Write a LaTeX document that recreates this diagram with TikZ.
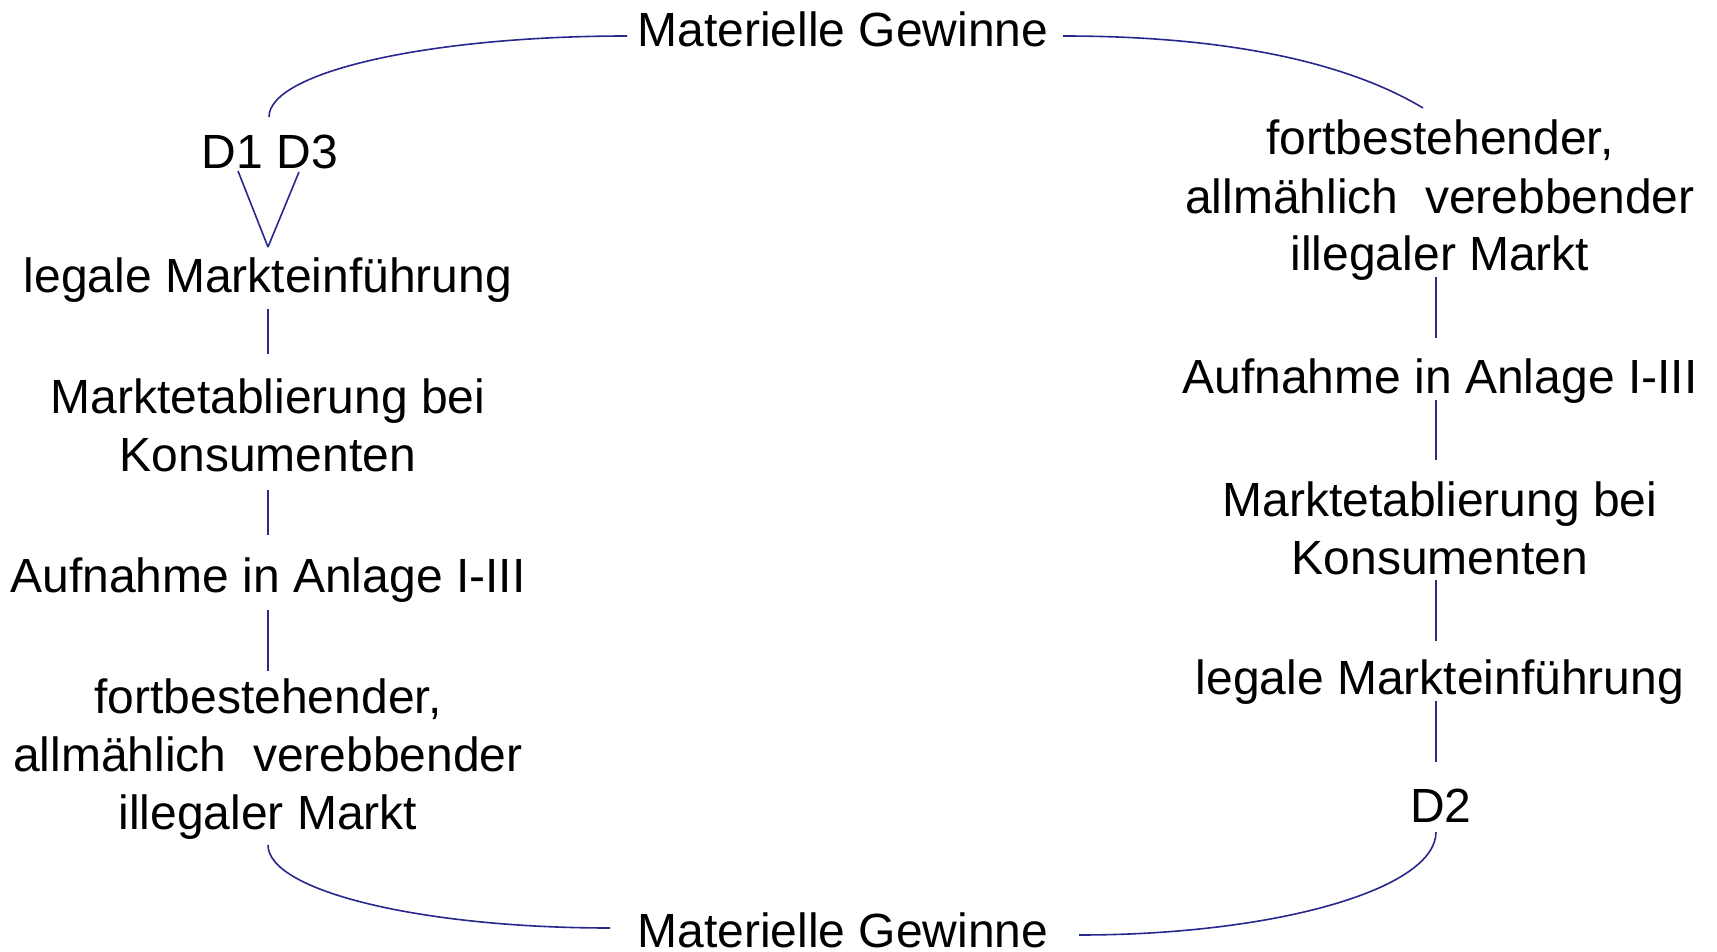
\documentclass[tikz,border=0pt]{standalone}
\usepackage{fontspec}
\setmainfont{Liberation Sans}
\definecolor{lnkcol}{RGB}{40,40,140}
\begin{document}
\begin{tikzpicture}[x=1pt,y=-1pt,
  lbl/.style={font=\fontsize{48}{58}\selectfont, inner sep=0pt, anchor=base, align=center},
  lnk/.style={draw=lnkcol, line width=1.6pt}]
\useasboundingbox (0,0) rectangle (1717,952);
% top and bottom
\node[lbl] (mgtop) at (843,47) {Materielle Gewinne};
\node[lbl] (mgbot) at (843,947) {Materielle Gewinne};
% left column
\node[lbl] (d13) at (270,169) {D1 D3};
\node[lbl] (lm) at (268,292) {legale Markteinführung};
\node[lbl] (me) at (268,471) {Marktetablierung bei\\Konsumenten};
\node[lbl] (an) at (268,592) {Aufnahme in Anlage I-III};
\node[lbl] (fi) at (268,829) {fortbestehender,\\allmählich\ \ verebbender\\illegaler Markt};
% right column
\node[lbl] (fiR) at (1440,271) {fortbestehender,\\allmählich\ \ verebbender\\illegaler Markt};
\node[lbl] (anR) at (1440,393) {Aufnahme in Anlage I-III};
\node[lbl] (meR) at (1440,574) {Marktetablierung bei\\Konsumenten};
\node[lbl] (lmR) at (1440,694) {legale Markteinführung};
\node[lbl] (d2) at (1441,822) {D2};
% left connectors
\draw[lnk] ([xshift=-216pt,yshift=11pt]mgtop.base) .. controls (429,36) and (269,72) .. ([xshift=-1pt,yshift=52pt]d13.base);
\draw[lnk] ([xshift=-32pt,yshift=-2pt]d13.base) -- ([yshift=45pt]lm.base);
\draw[lnk] ([xshift=29pt,yshift=-3pt]d13.base) -- ([yshift=45pt]lm.base);
\draw[lnk] ([yshift=-17pt]lm.base) -- ([yshift=117pt]me.base);
\draw[lnk] ([yshift=-19pt]me.base) -- ([yshift=57pt]an.base);
\draw[lnk] ([yshift=-18pt]an.base) -- ([yshift=158pt]fi.base);
\draw[lnk] ([yshift=-16pt]fi.base) .. controls (268,891) and (421,928) .. ([xshift=-233pt,yshift=19pt]mgbot.base);
% right connectors
\draw[lnk] ([xshift=220pt,yshift=11pt]mgtop.base) .. controls (1250,36) and (1360,70) .. ([xshift=-17pt,yshift=163pt]fiR.base);
\draw[lnk] ([xshift=-4pt,yshift=-6pt]fiR.base) -- ([xshift=-4pt,yshift=55pt]anR.base);
\draw[lnk] ([xshift=-4pt,yshift=-7pt]anR.base) -- ([xshift=-4pt,yshift=114pt]meR.base);
\draw[lnk] ([xshift=-4pt,yshift=-6pt]meR.base) -- ([xshift=-4pt,yshift=53pt]lmR.base);
\draw[lnk] ([xshift=-4pt,yshift=-7pt]lmR.base) -- ([xshift=-5pt,yshift=60pt]d2.base);
\draw[lnk] ([xshift=-5pt,yshift=-10pt]d2.base) .. controls (1436,889) and (1276,935) .. ([xshift=236pt,yshift=12pt]mgbot.base);
\end{tikzpicture}
\end{document}
